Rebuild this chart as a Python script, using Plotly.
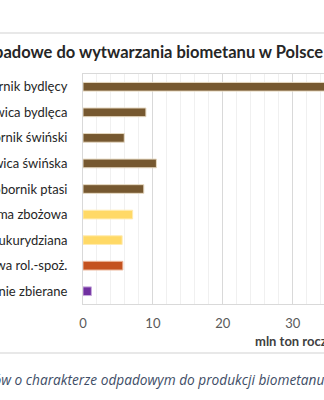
import plotly.graph_objects as go

categories = ["Obornik bydlęcy", "Gnojowica bydlęca", "Obornik świński", "Gnojowica świńska",
              "Pomiot i obornik ptasi", "Słoma zbożowa", "Słoma kukurydziana",
              "Odpady z przetwórstwa rol.-spoż.", "Trawy obecnie nie zbierane"]
values = [40.0, 9.0, 5.9, 10.5, 8.7, 7.1, 5.6, 5.7, 1.2]
x_ticks = [0, 10, 20, 30]
title_text = "Surowce odpadowe do wytwarzania biometanu w Polsce"
axis_title = "mln ton rocznie"
caption = "Rys. 1. Potencjał surowców o charakterze odpadowym do produkcji biometanu w Polsce"

colors = ["#765830"] * 5 + ["#FFD966", "#FFD966", "#C4521F", "#7030A0"]
edges = ["#E6D9C2"] * 5 + ["#FFEBB0", "#FFEBB0", "#EDB89C", "#C9ABDD"]

W, H = 324, 400
L, T, B = 82.7, 74, 304

def py(p):
    return (B - p) / (B - T)

def px(p):
    return (p - L) / (W - L)

fig = go.Figure(go.Bar(
    x=values, y=categories, orientation="h",
    marker=dict(color=colors, line=dict(color=edges, width=1)),
    width=0.34,
))

fig.update_layout(
    width=W, height=H,
    margin=dict(l=L, r=0, t=T, b=H - B, autoexpand=False),
    paper_bgcolor="white", plot_bgcolor="white",
    showlegend=False,
    font=dict(family="Lato", size=12, color="#404040"),
    xaxis=dict(
        range=[0, (W - L) / 7.0], tickvals=x_ticks, ticktext=[str(v) for v in x_ticks],
        showgrid=True, gridcolor="#D9D9D9", gridwidth=1,
        minor=dict(dtick=2, tick0=0, showgrid=True, gridcolor="#F0F0F0", gridwidth=1),
        showline=True, linecolor="#D9D9D9", mirror=True,
        ticks="", tickfont=dict(family="Lato", size=13, color="#595959"),
        ticklabelstandoff=7, zeroline=False, automargin=False,
    ),
    yaxis=dict(
        autorange="reversed", showgrid=False,
        showline=True, linecolor="#D9D9D9", mirror=True,
        ticks="", tickfont=dict(family="Lato", size=13, color="#262626"),
        ticklabelstandoff=12, automargin=False,
    ),
    shapes=[
        dict(type="line", xref="paper", yref="paper", x0=-1, x1=2, y0=py(33), y1=py(33),
             line=dict(color="#E0E0E0", width=1.5)),
        dict(type="line", xref="paper", yref="paper", x0=-1, x1=2, y0=py(353), y1=py(353),
             line=dict(color="#E0E0E0", width=1.5)),
    ],
    annotations=[
        dict(text="<b>" + title_text + "</b>", xref="paper", yref="paper",
             x=px(325), y=py(52), xanchor="right", yanchor="middle", showarrow=False,
             font=dict(family="Lato", size=16.5, color="#262626")),
        dict(text="<b>" + axis_title + "</b>", xref="paper", yref="paper",
             x=px(253), y=py(341), xanchor="left", yanchor="middle", showarrow=False,
             font=dict(family="Lato", size=13, color="#404040")),
        dict(text="<i>" + caption + "</i>", xref="paper", yref="paper",
             x=px(-153), y=py(379), xanchor="left", yanchor="middle", showarrow=False,
             font=dict(family="Open Sans", size=13.7, color="#3E4D66")),
    ],
)

fig.write_html("out.html")
